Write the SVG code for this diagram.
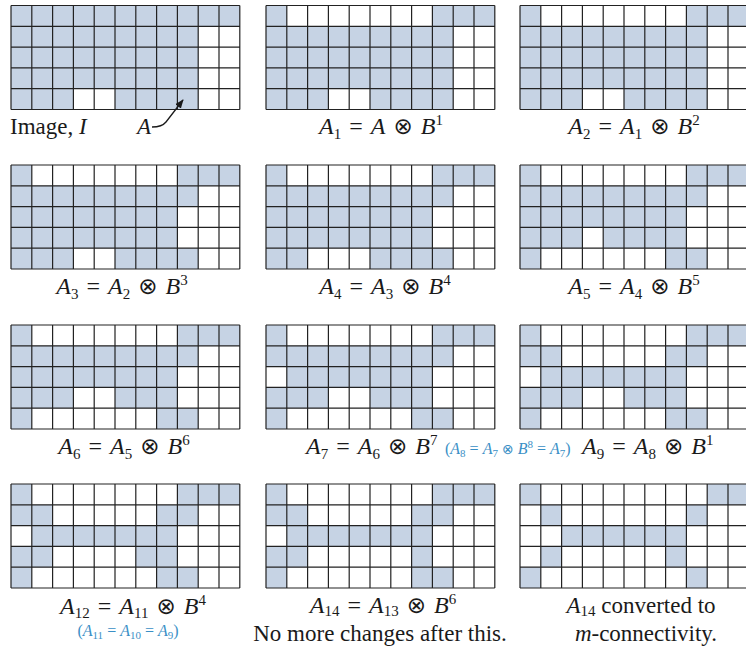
<svg xmlns="http://www.w3.org/2000/svg" xmlns:xlink="http://www.w3.org/1999/xlink" width="746" height="646" viewBox="0 0 746 646">
<style>
.on{fill:#c6d3e4}
.gl{stroke:#222;stroke-width:1.2;fill:none}
.t{font-family:"Liberation Serif","DejaVu Serif",serif;font-size:23px;fill:#1a1a1a}
.e{font-size:24px}
.i{font-style:italic}
.s{font-size:15px}
.op{font-family:"DejaVu Sans",sans-serif;font-size:23px}
.b{fill:#3a8fc6;font-size:16px}
.bs{font-size:11px}
.bop{font-family:"DejaVu Sans",sans-serif;font-size:14px}
.arr{stroke:#1a1a1a;stroke-width:1.3;fill:none}
</style>
<defs>
<path id="grid" class="gl" d="M0,0V104M20.8,0V104M41.6,0V104M62.4,0V104M83.2,0V104M104,0V104M124.8,0V104M145.6,0V104M166.4,0V104M187.2,0V104M208,0V104M228.8,0V104M0,0H228.8M0,20.8H228.8M0,41.6H228.8M0,62.4H228.8M0,83.2H228.8M0,104H228.8"/>
<marker id="ah" viewBox="0 0 10 10" refX="9" refY="5" markerWidth="9" markerHeight="9" orient="auto" markerUnits="userSpaceOnUse"><path d="M0,1L10,5L0,9z" fill="#1a1a1a"/></marker>
</defs>
<rect width="746" height="646" fill="#fff"/>

<g id="g-image" transform="translate(11,5.5)">
<rect class="on" x="0" y="0" width="228.8" height="20.8"/>
<rect class="on" x="0" y="20.8" width="187.2" height="62.4"/>
<rect class="on" x="0" y="83.2" width="62.4" height="20.8"/>
<rect class="on" x="104" y="83.2" width="83.2" height="20.8"/>
<use xlink:href="#grid"/>
</g>

<g id="g-a1" transform="translate(266,5.5)">
<rect class="on" x="0" y="0" width="20.8" height="20.8"/>
<rect class="on" x="166.4" y="0" width="62.4" height="20.8"/>
<rect class="on" x="0" y="20.8" width="187.2" height="62.4"/>
<rect class="on" x="0" y="83.2" width="62.4" height="20.8"/>
<rect class="on" x="104" y="83.2" width="83.2" height="20.8"/>
<use xlink:href="#grid"/>
</g>

<g id="g-a2" transform="translate(520,5.5)">
<rect class="on" x="0" y="0" width="20.8" height="20.8"/>
<rect class="on" x="166.4" y="0" width="62.4" height="20.8"/>
<rect class="on" x="0" y="20.8" width="187.2" height="62.4"/>
<rect class="on" x="0" y="83.2" width="62.4" height="20.8"/>
<rect class="on" x="104" y="83.2" width="83.2" height="20.8"/>
<use xlink:href="#grid"/>
</g>

<g id="g-a3" transform="translate(11,165)">
<rect class="on" x="0" y="0" width="20.8" height="20.8"/>
<rect class="on" x="166.4" y="0" width="62.4" height="20.8"/>
<rect class="on" x="0" y="20.8" width="187.2" height="20.8"/>
<rect class="on" x="0" y="41.6" width="166.4" height="41.6"/>
<rect class="on" x="0" y="83.2" width="62.4" height="20.8"/>
<rect class="on" x="104" y="83.2" width="83.2" height="20.8"/>
<use xlink:href="#grid"/>
</g>

<g id="g-a4" transform="translate(266,165)">
<rect class="on" x="0" y="0" width="20.8" height="20.8"/>
<rect class="on" x="166.4" y="0" width="62.4" height="20.8"/>
<rect class="on" x="0" y="20.8" width="187.2" height="20.8"/>
<rect class="on" x="0" y="41.6" width="166.4" height="41.6"/>
<rect class="on" x="0" y="83.2" width="41.6" height="20.8"/>
<rect class="on" x="104" y="83.2" width="83.2" height="20.8"/>
<use xlink:href="#grid"/>
</g>

<g id="g-a5" transform="translate(520,165)">
<rect class="on" x="0" y="0" width="20.8" height="20.8"/>
<rect class="on" x="166.4" y="0" width="62.4" height="20.8"/>
<rect class="on" x="0" y="20.8" width="187.2" height="20.8"/>
<rect class="on" x="0" y="41.6" width="166.4" height="20.8"/>
<rect class="on" x="0" y="62.4" width="62.4" height="20.8"/>
<rect class="on" x="83.2" y="62.4" width="83.2" height="20.8"/>
<rect class="on" x="0" y="83.2" width="20.8" height="20.8"/>
<rect class="on" x="145.6" y="83.2" width="41.6" height="20.8"/>
<use xlink:href="#grid"/>
</g>

<g id="g-a6" transform="translate(11,325)">
<rect class="on" x="0" y="0" width="20.8" height="20.8"/>
<rect class="on" x="166.4" y="0" width="62.4" height="20.8"/>
<rect class="on" x="0" y="20.8" width="187.2" height="20.8"/>
<rect class="on" x="0" y="41.6" width="166.4" height="20.8"/>
<rect class="on" x="0" y="62.4" width="62.4" height="20.8"/>
<rect class="on" x="104" y="62.4" width="62.4" height="20.8"/>
<rect class="on" x="0" y="83.2" width="20.8" height="20.8"/>
<rect class="on" x="145.6" y="83.2" width="41.6" height="20.8"/>
<use xlink:href="#grid"/>
</g>

<g id="g-a7" transform="translate(266,325)">
<rect class="on" x="0" y="0" width="20.8" height="20.8"/>
<rect class="on" x="166.4" y="0" width="62.4" height="20.8"/>
<rect class="on" x="0" y="20.8" width="187.2" height="20.8"/>
<rect class="on" x="20.8" y="41.6" width="145.6" height="20.8"/>
<rect class="on" x="0" y="62.4" width="62.4" height="20.8"/>
<rect class="on" x="104" y="62.4" width="62.4" height="20.8"/>
<rect class="on" x="0" y="83.2" width="20.8" height="20.8"/>
<rect class="on" x="145.6" y="83.2" width="41.6" height="20.8"/>
<use xlink:href="#grid"/>
</g>

<g id="g-a9" transform="translate(520,325)">
<rect class="on" x="0" y="0" width="20.8" height="20.8"/>
<rect class="on" x="166.4" y="0" width="62.4" height="20.8"/>
<rect class="on" x="0" y="20.8" width="41.6" height="20.8"/>
<rect class="on" x="145.6" y="20.8" width="41.6" height="20.8"/>
<rect class="on" x="20.8" y="41.6" width="145.6" height="20.8"/>
<rect class="on" x="0" y="62.4" width="62.4" height="20.8"/>
<rect class="on" x="104" y="62.4" width="62.4" height="20.8"/>
<rect class="on" x="0" y="83.2" width="20.8" height="20.8"/>
<rect class="on" x="145.6" y="83.2" width="41.6" height="20.8"/>
<use xlink:href="#grid"/>
</g>

<g id="g-a12" transform="translate(11,484)">
<rect class="on" x="0" y="0" width="20.8" height="20.8"/>
<rect class="on" x="166.4" y="0" width="62.4" height="20.8"/>
<rect class="on" x="0" y="20.8" width="41.6" height="20.8"/>
<rect class="on" x="145.6" y="20.8" width="41.6" height="20.8"/>
<rect class="on" x="20.8" y="41.6" width="145.6" height="20.8"/>
<rect class="on" x="0" y="62.4" width="41.6" height="20.8"/>
<rect class="on" x="124.8" y="62.4" width="41.6" height="20.8"/>
<rect class="on" x="0" y="83.2" width="20.8" height="20.8"/>
<rect class="on" x="145.6" y="83.2" width="41.6" height="20.8"/>
<use xlink:href="#grid"/>
</g>

<g id="g-a14" transform="translate(266,484)">
<rect class="on" x="0" y="0" width="20.8" height="20.8"/>
<rect class="on" x="166.4" y="0" width="62.4" height="20.8"/>
<rect class="on" x="0" y="20.8" width="41.6" height="20.8"/>
<rect class="on" x="145.6" y="20.8" width="41.6" height="20.8"/>
<rect class="on" x="20.8" y="41.6" width="145.6" height="20.8"/>
<rect class="on" x="0" y="62.4" width="41.6" height="20.8"/>
<rect class="on" x="145.6" y="62.4" width="20.8" height="20.8"/>
<rect class="on" x="0" y="83.2" width="20.8" height="20.8"/>
<rect class="on" x="145.6" y="83.2" width="41.6" height="20.8"/>
<use xlink:href="#grid"/>
</g>

<g id="g-m" transform="translate(520,484)">
<rect class="on" x="0" y="0" width="20.8" height="20.8"/>
<rect class="on" x="187.2" y="0" width="41.6" height="20.8"/>
<rect class="on" x="20.8" y="20.8" width="20.8" height="20.8"/>
<rect class="on" x="166.4" y="20.8" width="20.8" height="20.8"/>
<rect class="on" x="41.6" y="41.6" width="124.8" height="20.8"/>
<rect class="on" x="20.8" y="62.4" width="20.8" height="20.8"/>
<rect class="on" x="145.6" y="62.4" width="20.8" height="20.8"/>
<rect class="on" x="0" y="83.2" width="20.8" height="20.8"/>
<rect class="on" x="166.4" y="83.2" width="20.8" height="20.8"/>
<use xlink:href="#grid"/>
</g>

<g id="connectors">
<path class="arr" d="M152,127 Q162,127 166,122 L183,100" marker-end="url(#ah)"/>
</g>

<g id="labels" class="t">
<text x="10" y="134">Image, <tspan class="i">I</tspan></text>
<text x="137" y="134" class="i">A</text>

<text x="381" y="134" text-anchor="middle" class="e"><tspan class="i">A</tspan><tspan class="s" dy="5">1</tspan><tspan dy="-5">&#8196;=&#8196;</tspan><tspan class="i">A</tspan>&#8196;<tspan class="op">⊗</tspan>&#8196;<tspan class="i">B</tspan><tspan class="s" dy="-9">1</tspan></text>
<text x="634" y="134" text-anchor="middle" class="e"><tspan class="i">A</tspan><tspan class="s" dy="5">2</tspan><tspan dy="-5">&#8196;=&#8196;</tspan><tspan class="i">A</tspan><tspan class="s" dy="5">1</tspan><tspan dy="-5">&#8196;</tspan><tspan class="op">⊗</tspan>&#8196;<tspan class="i">B</tspan><tspan class="s" dy="-9">2</tspan></text>

<text x="122" y="294" text-anchor="middle" class="e"><tspan class="i">A</tspan><tspan class="s" dy="5">3</tspan><tspan dy="-5">&#8196;=&#8196;</tspan><tspan class="i">A</tspan><tspan class="s" dy="5">2</tspan><tspan dy="-5">&#8196;</tspan><tspan class="op">⊗</tspan>&#8196;<tspan class="i">B</tspan><tspan class="s" dy="-9">3</tspan></text>
<text x="385" y="294" text-anchor="middle" class="e"><tspan class="i">A</tspan><tspan class="s" dy="5">4</tspan><tspan dy="-5">&#8196;=&#8196;</tspan><tspan class="i">A</tspan><tspan class="s" dy="5">3</tspan><tspan dy="-5">&#8196;</tspan><tspan class="op">⊗</tspan>&#8196;<tspan class="i">B</tspan><tspan class="s" dy="-9">4</tspan></text>
<text x="634" y="294" text-anchor="middle" class="e"><tspan class="i">A</tspan><tspan class="s" dy="5">5</tspan><tspan dy="-5">&#8196;=&#8196;</tspan><tspan class="i">A</tspan><tspan class="s" dy="5">4</tspan><tspan dy="-5">&#8196;</tspan><tspan class="op">⊗</tspan>&#8196;<tspan class="i">B</tspan><tspan class="s" dy="-9">5</tspan></text>

<text x="124" y="454" text-anchor="middle" class="e"><tspan class="i">A</tspan><tspan class="s" dy="5">6</tspan><tspan dy="-5">&#8196;=&#8196;</tspan><tspan class="i">A</tspan><tspan class="s" dy="5">5</tspan><tspan dy="-5">&#8196;</tspan><tspan class="op">⊗</tspan>&#8196;<tspan class="i">B</tspan><tspan class="s" dy="-9">6</tspan></text>
<text x="306" y="454" class="e"><tspan class="i">A</tspan><tspan class="s" dy="5">7</tspan><tspan dy="-5">&#8196;=&#8196;</tspan><tspan class="i">A</tspan><tspan class="s" dy="5">6</tspan><tspan dy="-5">&#8196;</tspan><tspan class="op">⊗</tspan>&#8196;<tspan class="i">B</tspan><tspan class="s" dy="-9">7</tspan></text>
<text x="445" y="454" class="b">(<tspan class="i">A</tspan><tspan class="bs" dy="3">8</tspan><tspan dy="-3"> = </tspan><tspan class="i">A</tspan><tspan class="bs" dy="3">7</tspan><tspan dy="-3"> </tspan><tspan class="bop">⊗</tspan> <tspan class="i">B</tspan><tspan class="bs" dy="-6">8</tspan><tspan dy="6"> = </tspan><tspan class="i">A</tspan><tspan class="bs" dy="3">7</tspan><tspan dy="-3">)</tspan></text>
<text x="582" y="454" class="e"><tspan class="i">A</tspan><tspan class="s" dy="5">9</tspan><tspan dy="-5">&#8196;=&#8196;</tspan><tspan class="i">A</tspan><tspan class="s" dy="5">8</tspan><tspan dy="-5">&#8196;</tspan><tspan class="op">⊗</tspan>&#8196;<tspan class="i">B</tspan><tspan class="s" dy="-9">1</tspan></text>

<text x="133" y="614" text-anchor="middle" class="e"><tspan class="i">A</tspan><tspan class="s" dy="4">12</tspan><tspan dy="-4">&#8196;=&#8196;</tspan><tspan class="i">A</tspan><tspan class="s" dy="4">11</tspan><tspan dy="-4">&#8196;</tspan><tspan class="op">⊗</tspan>&#8196;<tspan class="i">B</tspan><tspan class="s" dy="-9">4</tspan></text>
<text x="128" y="636" text-anchor="middle" class="b">(<tspan class="i">A</tspan><tspan class="bs" dy="3">11</tspan><tspan dy="-3"> = </tspan><tspan class="i">A</tspan><tspan class="bs" dy="3">10</tspan><tspan dy="-3"> = </tspan><tspan class="i">A</tspan><tspan class="bs" dy="3">9</tspan><tspan dy="-3">)</tspan></text>
<text x="383" y="613" text-anchor="middle" class="e"><tspan class="i">A</tspan><tspan class="s" dy="3">14</tspan><tspan dy="-3">&#8196;=&#8196;</tspan><tspan class="i">A</tspan><tspan class="s" dy="3">13</tspan><tspan dy="-3">&#8196;</tspan><tspan class="op">⊗</tspan>&#8196;<tspan class="i">B</tspan><tspan class="s" dy="-9">6</tspan></text>
<text x="380" y="641" text-anchor="middle">No more changes after this.</text>
<text x="641" y="613" text-anchor="middle"><tspan class="i">A</tspan><tspan class="s" dy="3">14</tspan><tspan dy="-3"> converted to</tspan></text>
<text x="646" y="641" text-anchor="middle"><tspan class="i">m</tspan>-connectivity.</text>
</g>
</svg>
